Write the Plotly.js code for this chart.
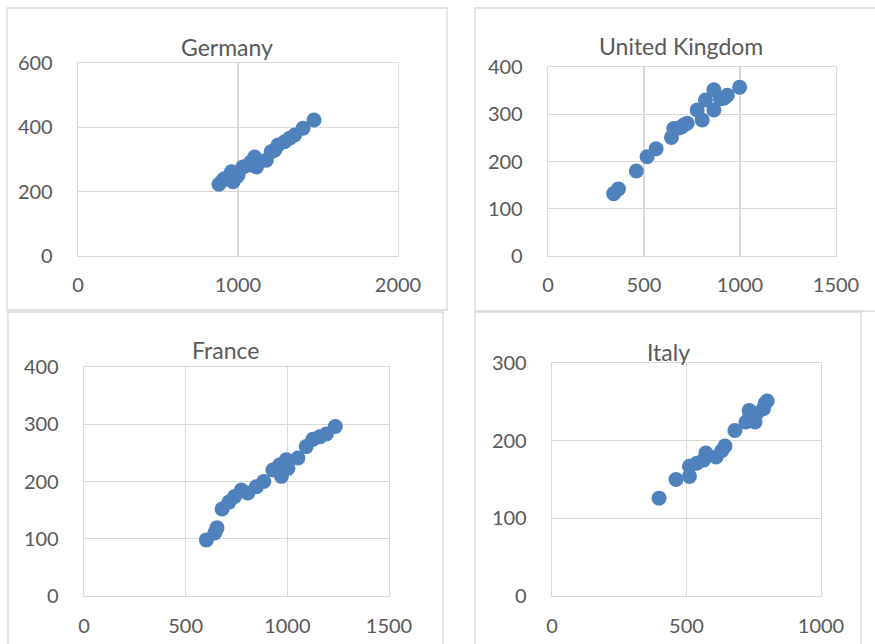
<!DOCTYPE html>
<html>
<head>
<meta charset="utf-8">
<script src="https://cdn.plot.ly/plotly-3.0.1.min.js"></script>
<style>html,body{margin:0;padding:0;background:#fff;}#chart{width:875px;height:644px;}</style>
</head>
<body>
<div id="chart"></div>
<script>
// ---- Data ----
const germanyX = [881,906,917,937,959,969,990,1000,1031,1063,1083,1104,1115,1135,1177,1208,1229,1250,1292,1323,1354,1406,1475];
const germanyY = [223,236,241,241,262,231,246,251,277,283,293,308,277,293,298,324,329,345,355,366,376,397,423];

const ukX = [342,367,460,516,563,643,655,681,695,707,725,777,803,820,864,864,898,916,934,998];
const ukY = [132,142,180,210,227,251,270,271,273,277,281,309,288,330,352,309,333,334,340,357];

const franceX = [602,643,654,679,713,741,774,806,848,884,929,962,971,995,1003,1052,1093,1126,1159,1192,1236];
const franceY = [98,110,119,152,164,174,185,180,191,200,220,229,209,238,223,241,261,274,278,283,296];

const italyX = [398,461,511,511,538,563,572,610,631,643,680,721,733,736,755,761,786,792,800];
const italyY = [126,150,154,167,171,175,184,179,187,193,213,224,239,233,224,235,241,248,251];

const panelTitles = ["Germany","United Kingdom","France","Italy"];
const xRanges = [[0,2000],[0,1500],[0,1500],[0,1000]];
const yRanges = [[0,600],[0,400],[0,400],[0,300]];
const xSteps = [1000,500,500,500];
const ySteps = [200,100,100,100];

// ---- Layout helpers (pixels -> paper) ----
const W = 875, H = 644;
const px = v => v / W;
const py = v => 1 - v / H;

const FONT = "Lato, Carlito, Calibri, 'Open Sans', sans-serif";
const GRID = "#d9d9d9";
const TICKC = "#595959";
const BLUE = "#4f81bd";

// plot areas [left,right,top,bottom] in px
const areas = [[78,398,63,256],[548,836,67,256],[84,389,367,596],[552,821,363,596]];
// chart boxes [left,right,top,bottom]
const boxes = [[7,447,8,310],[475,890,8,311],[8,443,312,660],[475,861,312,660]];
const titlePos = [[227,47],[681,46],[225.5,350],[668,352]];
const xStandoff = [11,11,12,12];

const series = [[germanyX,germanyY],[ukX,ukY],[franceX,franceY],[italyX,italyY]];

const data = series.map((s,i) => ({
  type: 'scatter', mode: 'markers',
  x: s[0], y: s[1],
  xaxis: i===0 ? 'x' : 'x'+(i+1),
  yaxis: i===0 ? 'y' : 'y'+(i+1),
  marker: {color: BLUE, size: 15, line: {width: 0}},
  cliponaxis: false,
  hoverinfo: 'x+y'
}));

const layout = {
  width: W, height: H,
  margin: {l:0, r:0, t:0, b:0},
  paper_bgcolor: '#ffffff',
  plot_bgcolor: '#ffffff',
  showlegend: false,
  font: {family: FONT, color: TICKC, size: 20},
  shapes: boxes.map(b => ({
    type: 'rect', xref: 'paper', yref: 'paper',
    x0: px(b[0]), x1: px(b[1]), y0: py(b[3]), y1: py(b[2]),
    line: {color: GRID, width: 1.3}, fillcolor: 'rgba(0,0,0,0)', layer: 'below'
  })),
  annotations: panelTitles.map((t,i) => ({
    text: t, xref: 'paper', yref: 'paper',
    x: px(titlePos[i][0]), y: py(titlePos[i][1]),
    xanchor: 'center', yanchor: 'middle', showarrow: false,
    font: {family: FONT, size: 23, color: TICKC}
  }))
};

areas.forEach((a,i) => {
  const sx = i===0 ? 'xaxis' : 'xaxis'+(i+1);
  const sy = i===0 ? 'yaxis' : 'yaxis'+(i+1);
  const ax = i===0 ? 'x' : 'x'+(i+1);
  const ay = i===0 ? 'y' : 'y'+(i+1);
  layout[sx] = {
    domain: [px(a[0]), px(a[1])], anchor: ay,
    range: xRanges[i], tick0: 0, dtick: xSteps[i], tickmode: 'linear',
    showgrid: true, gridcolor: GRID, gridwidth: 1.3,
    zeroline: false, showline: true, linecolor: GRID, linewidth: 1.3, mirror: true,
    ticks: '', ticklabelstandoff: xStandoff[i],
    tickfont: {family: FONT, size: 20, color: TICKC}, fixedrange: true
  };
  layout[sy] = {
    domain: [py(a[3]), py(a[2])], anchor: ax,
    range: yRanges[i], tick0: 0, dtick: ySteps[i], tickmode: 'linear',
    showgrid: true, gridcolor: GRID, gridwidth: 1.3,
    zeroline: false, showline: true, linecolor: GRID, linewidth: 1.3, mirror: true,
    ticks: '', ticklabelstandoff: 20,
    tickfont: {family: FONT, size: 20, color: TICKC}, fixedrange: true
  };
});

Plotly.newPlot('chart', data, layout, {displayModeBar: false, staticPlot: true});
</script>
</body>
</html>
